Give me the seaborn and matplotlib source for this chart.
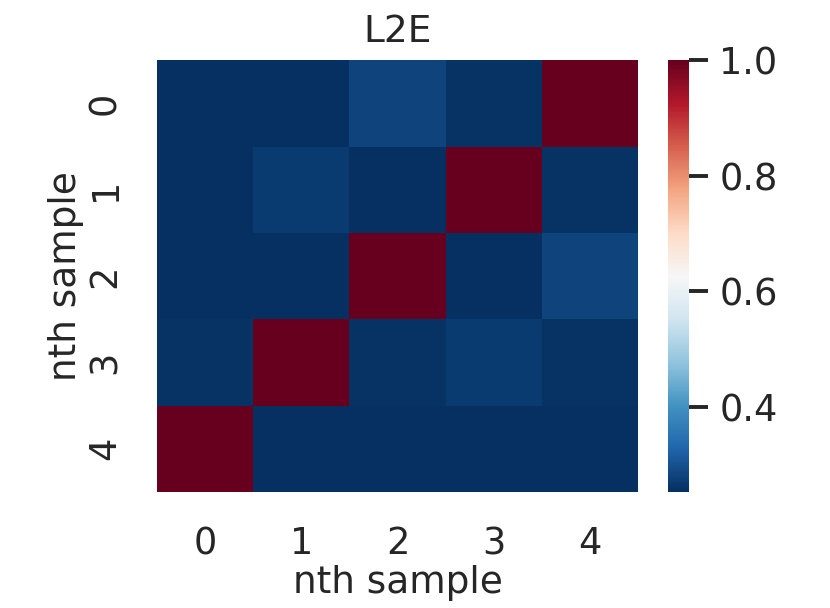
import numpy as np
import pandas as pd
import matplotlib
matplotlib.use("Agg")
import matplotlib.pyplot as plt
import seaborn as sns

labels = ["0", "1", "2", "3", "4"]
row0 = [0.255, 0.255, 0.282, 0.256, 1.0]
row1 = [0.254, 0.268, 0.255, 1.0, 0.256]
row2 = [0.255, 0.255, 1.0, 0.255, 0.282]
row3 = [0.256, 1.0, 0.257, 0.268, 0.256]
row4 = [1.0, 0.254, 0.254, 0.253, 0.255]

df = pd.DataFrame([row0, row1, row2, row3, row4], index=labels, columns=labels)

sns.set_theme(style="white", font_scale=2)
plt.rcParams['font.family'] = ['DejaVu Sans']

fig = plt.figure(figsize=(8.3, 6.08), dpi=100)
ax = fig.add_axes([0.189, 0.191, 0.580, 0.710])
cax = fig.add_axes([0.805, 0.191, 0.025, 0.710])

sns.heatmap(df, cmap="RdBu_r", ax=ax, cbar_ax=cax)
ax.set_title("L2E", fontsize=27, pad=13)
ax.set_xlabel("nth sample", fontsize=27, labelpad=2)
ax.set_ylabel("nth sample", fontsize=27, labelpad=2)
ax.tick_params(axis="both", length=0, labelsize=26.5, pad=24)
ax.set_yticklabels(labels, rotation=90, va="center")
ax.set_xticklabels(labels, rotation=0)

cax.set_yticks([0.4, 0.6, 0.8, 1.0])
cax.set_yticklabels(["0.4", "0.6", "0.8", "1.0"])
cax.tick_params(axis="y", length=14, width=2.8, labelsize=26.5, color="#262626", pad=8)
for s in cax.spines.values():
    s.set_visible(False)

fig.savefig("out.png", dpi=100)
